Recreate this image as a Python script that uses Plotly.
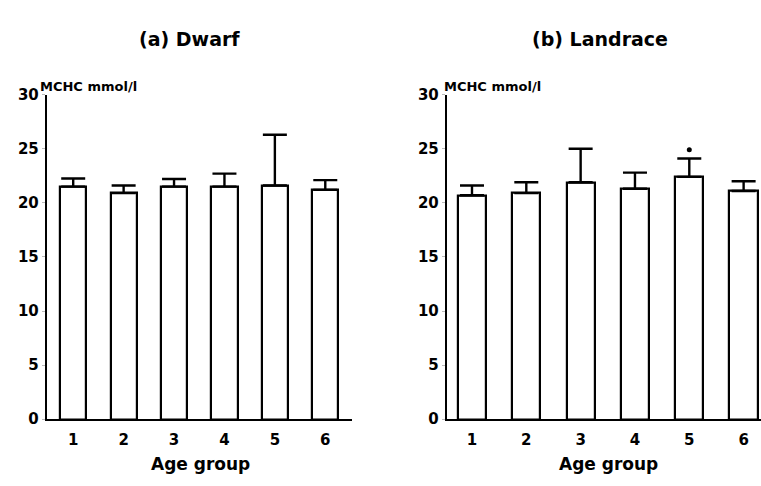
import plotly.graph_objects as go

age_groups = [1, 2, 3, 4, 5, 6]
dwarf_mean = [21.5, 20.9, 21.5, 21.5, 21.6, 21.2]
dwarf_err = [0.75, 0.7, 0.7, 1.2, 4.7, 0.9]
landrace_mean = [20.7, 20.9, 21.9, 21.3, 22.4, 21.1]
landrace_err = [0.9, 1.0, 3.1, 1.5, 1.7, 0.9]
sig_group = [5]
sig_y = [24.9]
y_ticks = [0, 5, 10, 15, 20, 25, 30]

FONT = "DejaVu Sans"

fig = go.Figure()
for xa, ya, mean, err in [("x", "y", dwarf_mean, dwarf_err), ("x2", "y2", landrace_mean, landrace_err)]:
    fig.add_trace(go.Bar(
        x=age_groups, y=mean, xaxis=xa, yaxis=ya, width=0.52,
        marker=dict(color="white", line=dict(color="black", width=2.2)),
        error_y=dict(type="data", array=err, arrayminus=[0]*len(err), symmetric=False,
                     color="black", thickness=2.4, width=12),
        showlegend=False,
    ))
fig.add_trace(go.Scatter(x=sig_group, y=sig_y, xaxis="x2", yaxis="y2", mode="markers",
                         marker=dict(color="black", size=5), showlegend=False))

ax_common = dict(showgrid=False, zeroline=False, showline=True, linecolor="black", linewidth=2.4,
                 tickfont=dict(family=FONT, size=15, color="black", weight="bold"))
y0, y1 = 1 - 426/486, 1 - 89/486
fig.update_layout(
    width=761, height=486, margin=dict(l=0, r=0, t=0, b=0),
    plot_bgcolor="white", paper_bgcolor="white", bargap=0,
    xaxis=dict(domain=[47/761, 352/761], range=[0.48, 6.53], tickvals=age_groups,
               ticks="outside", ticklen=6, tickcolor="white", anchor="y", **ax_common),
    yaxis=dict(domain=[y0, y1], range=[0, 30], tickvals=y_ticks, ticks="outside", ticklen=3,
               tickcolor="#bbbbbb", tickwidth=1, anchor="x", **ax_common),
    xaxis2=dict(domain=[447/761, 1.0], range=[0.54, 6.32], tickvals=age_groups,
                ticks="outside", ticklen=6, tickcolor="white", anchor="y2", **ax_common),
    yaxis2=dict(domain=[y0, y1], range=[0, 30], tickvals=y_ticks, ticks="outside", ticklen=3,
                tickcolor="#bbbbbb", tickwidth=1, anchor="x2", **ax_common),
)

def ann(text, x, y, size, anchor="center"):
    fig.add_annotation(text=text, x=x/761, y=1 - y/486, xref="paper", yref="paper",
                       showarrow=False, xanchor=anchor, yanchor="middle",
                       font=dict(family=FONT, size=size, color="black", weight="bold"))

ann("(a) Dwarf", 189, 31, 19)
ann("(b) Landrace", 600, 31, 19)
ann("MCHC mmol/l", 38, 80, 13, "left")
ann("MCHC mmol/l", 442, 80, 13, "left")
ann("Age group", 200, 472, 17)
ann("Age group", 608, 472, 17)

fig.write_html("out.html")
